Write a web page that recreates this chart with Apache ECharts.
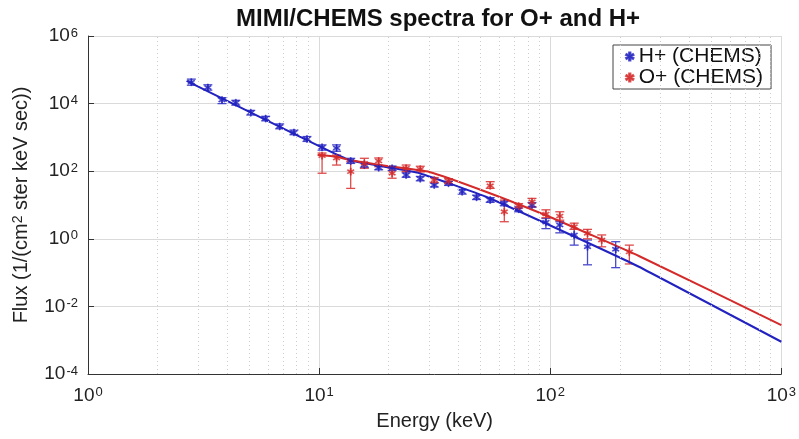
<!DOCTYPE html>
<html><head><meta charset="utf-8">
<script src="https://cdn.jsdelivr.net/npm/echarts@6/dist/echarts.min.js"></script>
<style>html,body{margin:0;padding:0;background:#fff}#c{width:799px;height:439px}</style>
</head><body><div id="c"></div>
<script>
// H+ (CHEMS) measurements
const hEnergy = [2.8,3.3,3.8,4.36,5.06,5.87,6.75,7.78,8.86,10.3,11.9,13.7,15.7,18.1,20.7,23.8,27.4,31.5,36.3,41.6,48,55,63.3,73,83.4,95.8,110,127,145,192];
const hFlux   = [43000,30000,12800,10600,5400,3600,2100,1400,900,510,485,200,152,127,122,77,60,39,44,24.7,16.9,14,11.2,7.5,10,3.1,2.56,1.3,0.58,0.49];
const hLow    = [35000,25000,10000,9000,4600,3100,1800,1200,760,420,390,170,130,110,105,66,52,34,38,21,14.5,12,9.5,6.3,8.5,2.0,1.5,0.65,0.17,0.14];
const hHigh   = [53000,36000,15000,12500,6300,4200,2500,1650,1060,600,600,240,180,150,142,90,70,45,50,29,19.5,16.5,13,8.8,11.8,4.0,3.2,1.9,0.92,0.82];
// O+ (CHEMS) measurements
const oEnergy = [10.3,11.9,13.7,15.7,18.1,20.7,23.8,27.4,31.5,36.3,55,63.3,73,83.4,95.8,110,127,145,167,220];
const oFlux   = [288,245,97,171,200,87,122,115,55,51,37,6.3,9.3,12.5,5.4,4.7,2.3,1.45,0.92,0.41];
const oLow    = [87,152,31,122,136,62,97,95,46,43,31,3.2,8,8.9,4.2,3.55,1.9,1.0,0.58,0.18];
const oHigh   = [345,300,191,241,246,122,152,140,65,60,49,14,11,15.7,7.2,6.3,2.9,1.9,1.3,0.65];
// fitted curves
const hFitEnergy = [2.67,8.24,13.5,20,27.2,52.7,99,242,1000];
const hFitFlux   = [47000,1050,214,130,87,17.6,2.56,0.149,0.0009];
const oFitEnergy = [9.85,11.9,13.5,20,30,52.7,99,242,1000];
const oFitFlux   = [300,268,214,140,95,24.7,4.5,0.31,0.0028];
// minor x grid positions
const xMinor = [2,3,4,5,6,7,8,9,20,30,40,50,60,70,80,90,200,300,400,500,600,700,800,900];

const FONT = 'Liberation Sans';
const BLUE = '#2222c0', RED = '#d42a2a';
const BLUE_E = '#4848cc', RED_E = '#de4a4a';
const STAR = 'path://M-0.8,-5L0.8,-5L0.8,5L-0.8,5ZM4.0,3.1L4.7,1.8L-4.0,-3.1L-4.7,-1.8ZM4.7,-1.8L4.0,-3.1L-4.7,1.8L-4.0,3.1Z';

function expLabel(v){ const e = Math.round(Math.log10(v)); return '{b|10}{s|' + e + '}'; }
const labelRich = {
  b:{fontSize:19, lineHeight:19, verticalAlign:'bottom', color:'#222', fontFamily:FONT},
  s:{fontSize:13, lineHeight:13, verticalAlign:'top', color:'#222', fontFamily:FONT, padding:[0,0,8,1]}
};
function errRender(color){
  return function(params, api){
    const x = api.value(0), lo = api.value(1), hi = api.value(2);
    const a = api.coord([x, hi]), b = api.coord([x, lo]);
    const w = 4.5, st = {stroke:color, lineWidth:1.3};
    return {type:'group', children:[
      {type:'line', shape:{x1:a[0],y1:a[1],x2:b[0],y2:b[1]}, style:st},
      {type:'line', shape:{x1:a[0]-w,y1:a[1],x2:a[0]+w,y2:a[1]}, style:st},
      {type:'line', shape:{x1:b[0]-w,y1:b[1],x2:b[0]+w,y2:b[1]}, style:st}
    ]};
  };
}
const zip2 = (a,b)=>a.map((v,i)=>[v,b[i]]);
const zip3 = (a,b,c)=>a.map((v,i)=>[v,b[i],c[i]]);

const chart = echarts.init(document.getElementById('c'), null, {renderer:'canvas'});
chart.setOption({
  animation:false,
  backgroundColor:'#fff',
  textStyle:{fontFamily:FONT},
  title:{text:'MIMI/CHEMS spectra for O+ and H+', left:231, top:2,
    textStyle:{fontSize:24, fontWeight:'bold', color:'#111', fontFamily:FONT}},
  grid:{left:88, right:17, top:36, bottom:65},
  legend:{orient:'vertical', left:613, top:45, padding:[1,8,1,12], itemGap:0,
    itemWidth:8, itemHeight:8, itemTextGap:16, backgroundColor:'#fff',
    borderColor:'#444', borderWidth:1, borderRadius:0,
    textStyle:{fontSize:21, color:'#111', fontFamily:FONT},
    data:['H+ (CHEMS)','O+ (CHEMS)']},
  xAxis:{type:'log', logBase:10, min:1, max:1000, interval:1,
    name:'Energy (keV)', nameLocation:'middle', nameGap:29,
    nameTextStyle:{fontSize:20, color:'#222', fontFamily:FONT},
    axisLine:{lineStyle:{color:'#333', width:1}},
    axisTick:{inside:true, length:6, lineStyle:{color:'#333'}},
    axisLabel:{formatter:expLabel, rich:labelRich, margin:12},
    splitLine:{show:true, lineStyle:{color:'#dadada', width:1}}},
  yAxis:{type:'log', logBase:10, min:1e-4, max:1e6, interval:2,
    name:'{b|Flux (1/(cm}{s|2}{b| ster keV sec))}', nameLocation:'middle', nameGap:53,
    nameTextStyle:{rich:{
      b:{fontSize:20, lineHeight:20, verticalAlign:'bottom', color:'#222', fontFamily:FONT},
      s:{fontSize:14, lineHeight:14, verticalAlign:'top', color:'#222', fontFamily:FONT, padding:[0,0,8,0]}}},
    axisLine:{lineStyle:{color:'#333', width:1}},
    axisTick:{inside:true, length:6, lineStyle:{color:'#333'}},
    axisLabel:{formatter:expLabel, rich:labelRich, margin:10},
    splitLine:{show:true, lineStyle:{color:'#dadada', width:1}}},
  series:[
    {type:'line', name:'minor', data:[], silent:true, z:1,
      markLine:{silent:true, symbol:'none', label:{show:false}, animation:false,
        lineStyle:{color:'#cccccc', type:[1,3], width:1},
        data:xMinor.map(v=>({xAxis:v}))}},
    {type:'custom', name:'H+ err', renderItem:errRender(BLUE_E), data:zip3(hEnergy,hLow,hHigh),
      encode:{x:0, y:[1,2]}, z:2, silent:true},
    {type:'custom', name:'O+ err', renderItem:errRender(RED_E), data:zip3(oEnergy,oLow,oHigh),
      encode:{x:0, y:[1,2]}, z:2, silent:true},
    {type:'line', name:'H+ fit', data:zip2(hFitEnergy,hFitFlux), smooth:0.15, showSymbol:false,
      lineStyle:{color:BLUE, width:2}, z:3, silent:true},
    {type:'line', name:'O+ fit', data:zip2(oFitEnergy,oFitFlux), smooth:0.15, showSymbol:false,
      lineStyle:{color:RED, width:2}, z:3, silent:true},
    {type:'scatter', name:'H+ (CHEMS)', data:zip2(hEnergy,hFlux), symbol:STAR, symbolSize:7,
      itemStyle:{color:BLUE, borderColor:BLUE, borderWidth:0.6}, z:4},
    {type:'scatter', name:'O+ (CHEMS)', data:zip2(oEnergy,oFlux), symbol:STAR, symbolSize:7,
      itemStyle:{color:RED, borderColor:RED, borderWidth:0.6}, z:4}
  ]
});
</script></body></html>
